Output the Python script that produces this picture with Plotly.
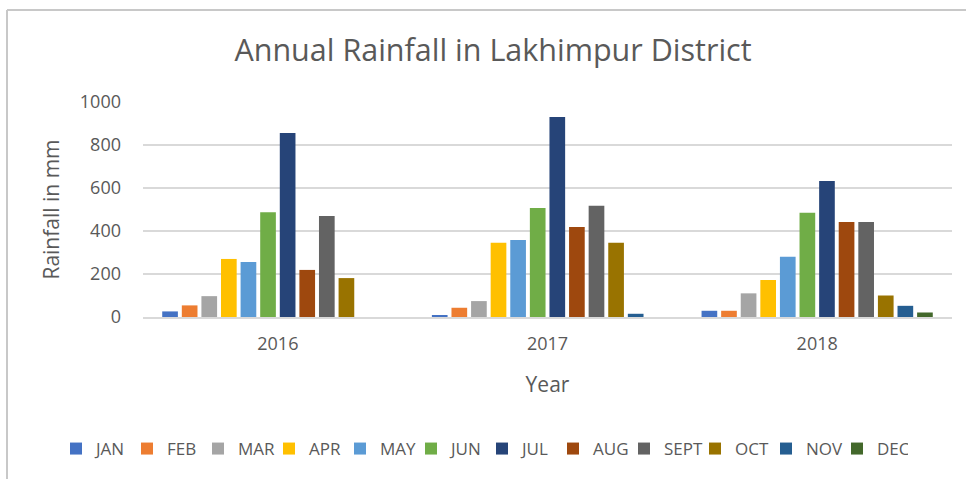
import plotly.graph_objects as go

# Monthly rainfall (mm) for Lakhimpur District
years = ["2016", "2017", "2018"]
months = ["JAN", "FEB", "MAR", "APR", "MAY", "JUN", "JUL", "AUG", "SEPT", "OCT", "NOV", "DEC"]
rain_2016 = [26, 54, 97, 270, 256, 487, 856, 219, 470, 181, 0, 0]
rain_2017 = [6, 43, 74, 345, 358, 507, 930, 419, 518, 345, 15, 0]
rain_2018 = [29, 29, 110, 172, 280, 485, 632, 442, 442, 100, 52, 21]
month_colors = ["#4472C4", "#ED7D31", "#A5A5A5", "#FFC000", "#5B9BD5", "#70AD47",
                "#264478", "#9E480E", "#636363", "#997300", "#255E91", "#43682B"]

W, H = 966, 479
L, R, T, B = 143, 14, 102, 162
pw, ph = W - L - R, H - T - B

FONT = "Open Sans, sans-serif"
TXT = "#595959"
GRID = "#d9d9d9"

fig = go.Figure()
for i, m in enumerate(months):
    fig.add_trace(go.Bar(
        name=m,
        x=years,
        y=[rain_2016[i], rain_2017[i], rain_2018[i]],
        marker=dict(color=month_colors[i], line=dict(width=0)),
    ))

def px_x(p):
    return (p - L) / pw

def px_y(p):
    return (H - B - p) / ph

# chart frame (left and top edges)
frame = dict(type="line", xref="paper", yref="paper", line=dict(color="#c8c8c8", width=2))
fig.add_shape(**frame, x0=px_x(7), x1=px_x(7), y0=px_y(10), y1=px_y(H + 5))
fig.add_shape(**frame, x0=px_x(7), x1=px_x(W + 5), y0=px_y(10), y1=px_y(10))

fig.update_layout(
    width=W, height=H,
    margin=dict(l=L, r=R, t=T, b=B, autoexpand=False),
    paper_bgcolor="white", plot_bgcolor="white",
    barmode="group", bargap=0.128, bargroupgap=0.2,
    font=dict(family=FONT, color=TXT, size=16),
    title=dict(text="Annual Rainfall in Lakhimpur District",
               x=493 / W, xref="container", xanchor="center",
               y=1 - 50 / H, yref="container", yanchor="middle",
               font=dict(family=FONT, size=30.5, color=TXT)),
    # legend row sits below the plot, starting in the left margin
    legend=dict(orientation="h", x=px_x(56), xref="paper", xanchor="left",
                y=px_y(449), yref="paper", yanchor="middle",
                font=dict(family=FONT, size=17, color=TXT),
                itemwidth=30, entrywidth=26, entrywidthmode="pixels",
                tracegroupgap=0, itemclick=False),
    showlegend=True,
)
fig.update_yaxes(range=[0, 1000], dtick=200, showgrid=True, gridcolor=GRID, gridwidth=1.5,
                 zeroline=False, showline=False, ticks="", ticklabelstandoff=21,
                 tickfont=dict(size=18, color=TXT),
                 title=dict(text="Rainfall in mm", standoff=14, font=dict(size=21, color=TXT)))
fig.update_xaxes(showline=True, linecolor=GRID, linewidth=1.5, ticks="", ticklabelstandoff=10,
                 tickfont=dict(size=18, color=TXT),
                 title=dict(text="Year", standoff=23, font=dict(size=21, color=TXT)))

fig.write_html("out.html")
